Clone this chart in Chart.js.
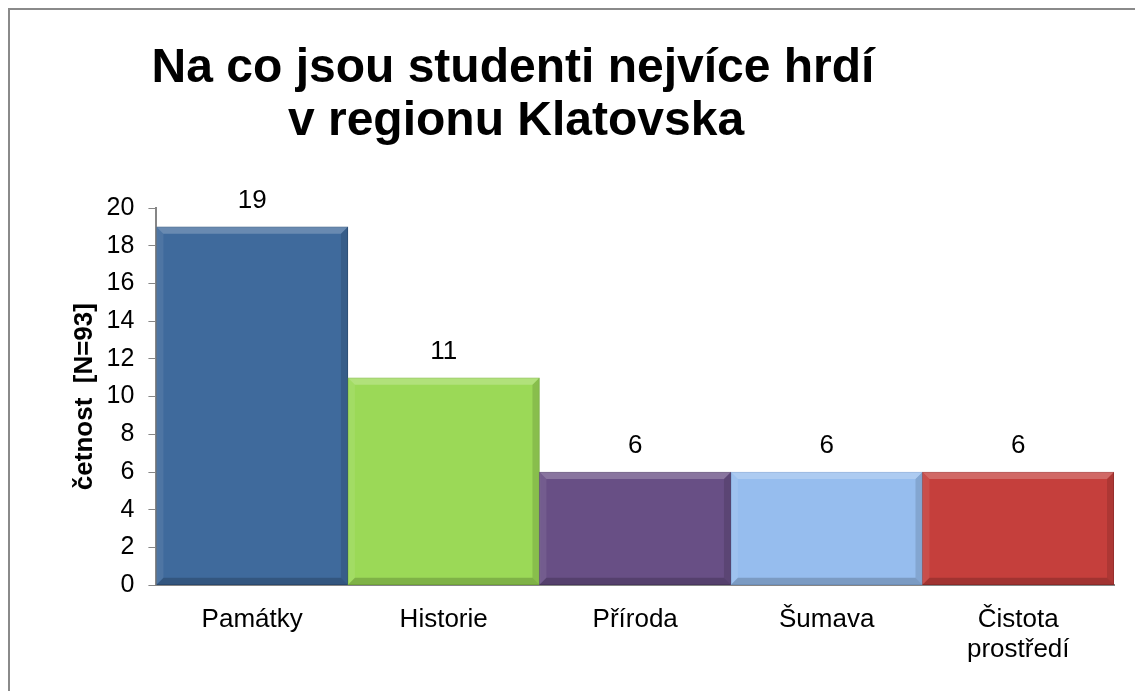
<!DOCTYPE html>
<html>
<head>
<meta charset="utf-8">
<script src="https://cdn.jsdelivr.net/npm/chart.js@4/dist/chart.umd.min.js"></script>
<style>
  body { margin: 0; background: #fff; }
  #wrap { width: 1135px; height: 691px; position: relative; }
</style>
</head>
<body>
<div id="wrap"><canvas id="myChart" width="1135" height="691"></canvas></div>
<script>
var titleLines = ['Na co jsou studenti nejvíce hrdí', 'v regionu Klatovska'];
var categories = ['Památky', 'Historie', 'Příroda', 'Šumava', ['Čistota', 'prostředí']];
var counts = [19, 11, 6, 6, 6];
var barColors = ['#3f6a9c', '#9bd957', '#684f85', '#96bdee', '#c53f3c'];
var barEdges = ['#31557f', '#82bd44', '#55406e', '#7fa5d6', '#a13230'];
var yTitle = 'četnost  [N=93]';
var FONT = '"Liberation Sans", Arial, sans-serif';

// frame + title drawn by hand, Excel places the title off-center
var framePlugin = {
  id: 'frame',
  beforeDraw: function(chart) {
    var ctx = chart.ctx;
    ctx.save();
    ctx.fillStyle = '#fff';
    ctx.fillRect(0, 0, chart.width, chart.height);
    ctx.strokeStyle = '#8a8a8a';
    ctx.lineWidth = 2;
    ctx.beginPath();
    ctx.moveTo(9, chart.height);
    ctx.lineTo(9, 9);
    ctx.lineTo(chart.width, 9);
    ctx.stroke();
    ctx.fillStyle = '#000';
    ctx.font = 'bold 48px ' + FONT;
    ctx.textAlign = 'center';
    ctx.textBaseline = 'alphabetic';
    ctx.fillText(titleLines[0], 513, 82);
    ctx.fillText(titleLines[1], 516, 135);
    ctx.restore();
  }
};

// soft bevel on each bar + value above it
var valuePlugin = {
  id: 'values',
  afterDatasetsDraw: function(chart) {
    var ctx = chart.ctx;
    var meta = chart.getDatasetMeta(0);
    ctx.save();
    meta.data.forEach(function(bar) {
      var l = bar.x - bar.width / 2, r = bar.x + bar.width / 2;
      var t = bar.y, b = bar.base, w = 7;
      ctx.fillStyle = 'rgba(255,255,255,0.22)';
      ctx.beginPath();
      ctx.moveTo(l, t); ctx.lineTo(r, t); ctx.lineTo(r - w, t + w); ctx.lineTo(l + w, t + w);
      ctx.closePath(); ctx.fill();
      ctx.fillStyle = 'rgba(255,255,255,0.08)';
      ctx.beginPath();
      ctx.moveTo(l, t); ctx.lineTo(l + w, t + w); ctx.lineTo(l + w, b - w); ctx.lineTo(l, b);
      ctx.closePath(); ctx.fill();
      ctx.fillStyle = 'rgba(0,0,0,0.12)';
      ctx.beginPath();
      ctx.moveTo(r, t); ctx.lineTo(r, b); ctx.lineTo(r - w, b - w); ctx.lineTo(r - w, t + w);
      ctx.closePath(); ctx.fill();
      ctx.fillStyle = 'rgba(0,0,0,0.18)';
      ctx.beginPath();
      ctx.moveTo(l, b); ctx.lineTo(r, b); ctx.lineTo(r - w, b - w); ctx.lineTo(l + w, b - w);
      ctx.closePath(); ctx.fill();
    });
    ctx.fillStyle = '#000';
    ctx.font = '26px ' + FONT;
    ctx.textAlign = 'center';
    ctx.textBaseline = 'middle';
    meta.data.forEach(function(bar, i) {
      ctx.fillText(counts[i], bar.x, bar.y - 26);
    });
    ctx.restore();
  }
};

var ctx = document.getElementById('myChart');
var myChart = new Chart(ctx, {
  type: 'bar',
  data: {
    labels: categories,
    datasets: [{
      data: counts,
      backgroundColor: barColors,
      borderColor: barEdges,
      borderWidth: 1,
      borderSkipped: false,
      barPercentage: 1,
      categoryPercentage: 1
    }]
  },
  options: {
    responsive: false,
    animation: false,
    layout: { padding: { top: 208, left: 69, right: 21, bottom: 14 } },
    plugins: {
      legend: { display: false },
      tooltip: { enabled: false },
      title: { display: false }
    },
    scales: {
      y: {
        min: 0,
        max: 20,
        ticks: {
          stepSize: 2,
          color: '#000',
          font: { family: FONT, size: 25 },
          padding: 14
        },
        grid: { drawOnChartArea: false, color: '#868686', tickLength: 8 },
        border: { color: '#868686', width: 2 },
        title: {
          display: true,
          text: yTitle,
          color: '#000',
          font: { family: FONT, size: 26, weight: 'bold', lineHeight: 0.6 },
          padding: { top: 8, bottom: 0 }
        }
      },
      x: {
        ticks: {
          color: '#000',
          font: { family: FONT, size: 26, lineHeight: 1.15 },
          padding: 12,
          maxRotation: 0
        },
        grid: { display: false },
        border: { color: '#868686', width: 2 }
      }
    }
  },
  plugins: [framePlugin, valuePlugin]
});
</script>
</body>
</html>
